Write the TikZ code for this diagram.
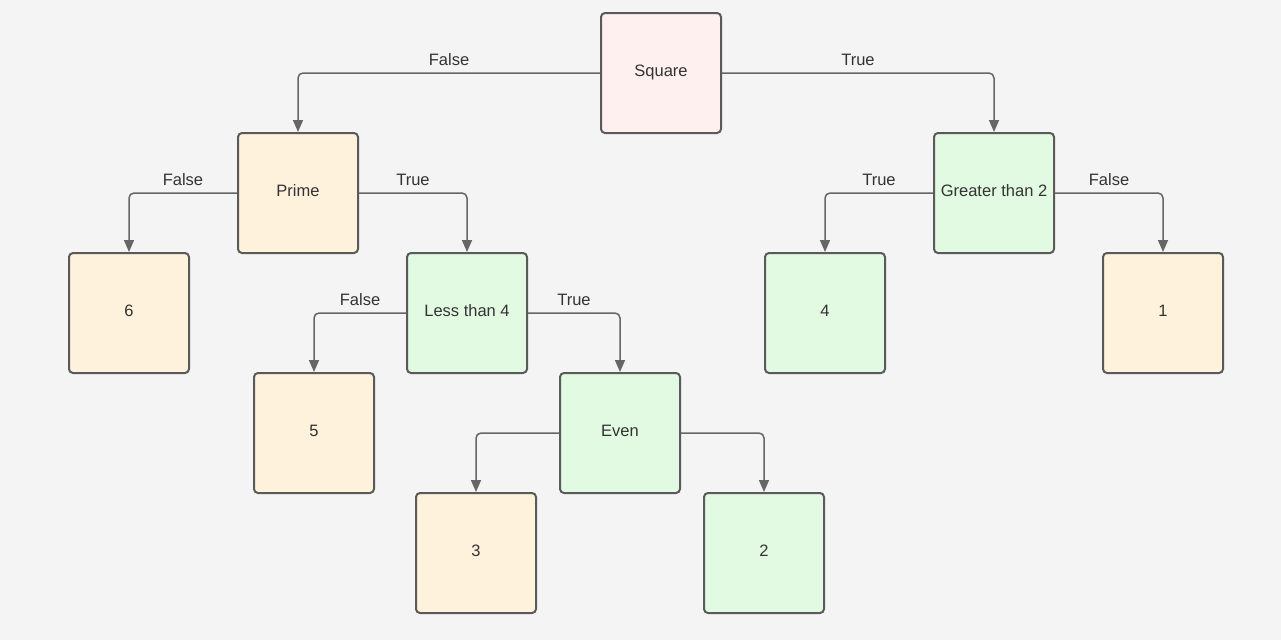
\documentclass[tikz,border=0pt]{standalone}
\usepackage{fontspec}
\setmainfont{Liberation Sans}
\usetikzlibrary{arrows.meta,positioning}
\definecolor{bggray}{HTML}{F4F4F4}
\definecolor{pinkfill}{HTML}{FFF0F0}
\definecolor{yellowfill}{HTML}{FFF2DC}
\definecolor{greenfill}{HTML}{E2FAE2}
\definecolor{boxgray}{HTML}{5A5A5A}
\definecolor{edgegray}{HTML}{666666}
\definecolor{txtgray}{HTML}{333333}
\begin{document}
\begin{tikzpicture}[>={Triangle[length=12pt,width=10pt]},
node distance=120pt,
font=\fontsize{16.5}{19}\selectfont, text=txtgray]
\tikzstyle{box}=[rectangle, rounded corners=4pt, minimum size=120pt, inner sep=0pt,
 draw=boxgray, line width=2pt, text height=11.5pt, text depth=5pt]
\tikzstyle{pinkbox}=[box, fill=pinkfill]
\tikzstyle{yellowbox}=[box, fill=yellowfill]
\tikzstyle{greenbox}=[box, fill=greenfill]
\tikzstyle{flow}=[->, draw=edgegray, line width=1.5pt, rounded corners=5pt]
\tikzstyle{lbl}=[pos=0.25, above=7pt, inner sep=0pt, text depth=0pt]

\fill[bggray] (0,0) rectangle (1281pt,-640pt);
\useasboundingbox (0,0) rectangle (1281pt,-640pt);

%root
\node[pinkbox] (Sq) at (661pt,-73pt) {Square};

\node[yellowbox] (Pr) [below of=Sq, xshift=-363pt] {Prime};
\node[greenbox] (Gt) [below of=Sq, xshift=333pt] {Greater than 2};

\node[yellowbox] (N6) [below of=Pr, xshift=-169pt] {6};
\node[greenbox] (Lt) [below of=Pr, xshift=169pt] {Less than 4};
\node[greenbox] (N4) [below of=Gt, xshift=-169pt] {4};
\node[yellowbox] (N1) [below of=Gt, xshift=169pt] {1};

\node[yellowbox] (N5) [below of=Lt, xshift=-153pt] {5};
\node[greenbox] (Ev) [below of=Lt, xshift=153pt] {Even};

\node[yellowbox] (N3) [below of=Ev, xshift=-144pt] {3};
\node[greenbox] (N2) [below of=Ev, xshift=144pt] {2};

\draw[flow] (Sq.west) -| node[lbl] {False} (Pr.north);
\draw[flow] (Sq.east) -| node[lbl] {True} (Gt.north);

\draw[flow] (Pr.west) -| node[lbl] {False} (N6.north);
\draw[flow] (Pr.east) -| node[lbl] {True} (Lt.north);

\draw[flow] (Gt.west) -| node[lbl] {True} (N4.north);
\draw[flow] (Gt.east) -| node[lbl] {False} (N1.north);

\draw[flow] (Lt.west) -| node[lbl] {False} (N5.north);
\draw[flow] (Lt.east) -| node[lbl] {True} (Ev.north);

\draw[flow] (Ev.west) -| (N3.north);
\draw[flow] (Ev.east) -| (N2.north);

\end{tikzpicture}
\end{document}
